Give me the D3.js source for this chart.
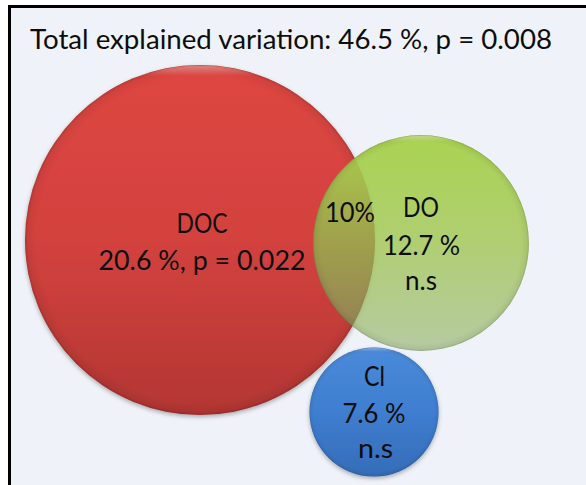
<!DOCTYPE html>
<html><head><meta charset="utf-8">
<script src="https://cdn.jsdelivr.net/npm/d3@7"></script>
<style>html,body{margin:0;padding:0;background:#fff;}svg{display:block;}</style>
</head><body>
<script>
// ---- data ----
const sets = ["DOC", "DO", "Cl"];
const explained = [20.6, 12.7, 7.6];
const significance = ["p = 0.022", "n.s", "n.s"];
const sharedDOC_DO = 10;
const totalExplained = 46.5;
const totalP = "0.008";

const W = 586, H = 485;
const svg = d3.select("body").append("svg").attr("width", W).attr("height", H);
const defs = svg.append("defs");

// frame
svg.append("rect").attr("x", 9.5).attr("y", 6.5).attr("width", W + 20).attr("height", H + 20)
  .attr("fill", "#eff3f9").attr("stroke", "#000").attr("stroke-width", 3);

// scales
const r = d3.scaleLinear().domain([0, 20.6]).range([0, 175]);
const x = d3.scaleLinear().domain([0, 1]).range([0, W]);
const y = d3.scaleLinear().domain([0, 1]).range([0, H]);

// layout (normalized centres)
const layout = [
  {cx: 200 / W, cy: 240 / H},
  {cx: 421 / W, cy: 243 / H},
  {cx: 374 / W, cy: 412 / H}
];
const circles = sets.map((s, i) => ({name: s, v: explained[i], p: significance[i],
  cx: x(layout[i].cx), cy: y(layout[i].cy), r: r(explained[i])}));

// gradients
function lin(id, stops) {
  const g = defs.append("linearGradient").attr("id", id).attr("x1", 0).attr("y1", 0).attr("x2", 0).attr("y2", 1);
  stops.forEach(s => g.append("stop").attr("offset", s[0]).attr("stop-color", s[1]).attr("stop-opacity", s[2] == null ? 1 : s[2]));
}
lin("gRed", [[0, "#de4642"], [0.5, "#d3423e"], [1, "#b33633"]]);
lin("gGreen", [[0, "#a8d24c", 0.97], [0.5, "#a5c85a", 0.85], [1, "#a3bd84", 0.75]]);
lin("gBlue", [[0, "#4a8ad9"], [0.5, "#3f7ed0"], [1, "#356cb8"]]);
const rg = defs.append("radialGradient").attr("id", "bevel").attr("cx", 0.5).attr("cy", 0.5).attr("r", 0.5);
rg.append("stop").attr("offset", 0.93).attr("stop-color", "#000").attr("stop-opacity", 0);
rg.append("stop").attr("offset", 0.985).attr("stop-color", "#000").attr("stop-opacity", 0.06);
rg.append("stop").attr("offset", 1).attr("stop-color", "#000").attr("stop-opacity", 0.2);
const hl = defs.append("linearGradient").attr("id", "hl").attr("x1", 0).attr("y1", 0).attr("x2", 0).attr("y2", 1);
hl.append("stop").attr("offset", 0).attr("stop-color", "#fff").attr("stop-opacity", 0.35);
hl.append("stop").attr("offset", 0.03).attr("stop-color", "#fff").attr("stop-opacity", 0);
const f = defs.append("filter").attr("id", "sh").attr("x", -0.1).attr("y", -0.1).attr("width", 1.2).attr("height", 1.2);
f.append("feDropShadow").attr("dx", 0).attr("dy", 2).attr("stdDeviation", 2).attr("flood-color", "#000").attr("flood-opacity", 0.3);

const fills = ["url(#gRed)", "url(#gGreen)", "url(#gBlue)"];
const order = [0, 2, 1];
order.forEach(i => {
  const c = circles[i];
  const g = svg.append("g");
  g.append("circle").attr("cx", c.cx).attr("cy", c.cy).attr("r", c.r).attr("fill", fills[i]).attr("filter", i === 1 ? null : "url(#sh)");
  g.append("circle").attr("cx", c.cx).attr("cy", c.cy).attr("r", c.r).attr("fill", "url(#bevel)");
  g.append("circle").attr("cx", c.cx).attr("cy", c.cy).attr("r", c.r - 0.5).attr("fill", "url(#hl)");
});
// darken overlap slightly
const cp = defs.append("clipPath").attr("id", "clipRed");
cp.append("circle").attr("cx", circles[0].cx).attr("cy", circles[0].cy).attr("r", circles[0].r);
lin("gOv", [[0, "#7a7a20", 0.0], [0.4, "#6b4a20", 0.15], [1, "#5a2a10", 0.3]]);
svg.append("circle").attr("cx", circles[1].cx).attr("cy", circles[1].cy).attr("r", circles[1].r)
  .attr("clip-path", "url(#clipRed)").attr("fill", "url(#gOv)");

// text helper
const FS = 26;
function txt(str, cx, base, width, anchor) {
  const t = svg.append("text").attr("x", cx).attr("y", base).attr("text-anchor", anchor || "middle")
    .attr("font-family", "Lato, 'Open Sans', sans-serif").attr("font-size", FS).attr("fill", "#0d0d0d").text(str);
  if (width) t.attr("textLength", width).attr("lengthAdjust", "spacingAndGlyphs");
  return t;
}
txt(`Total explained variation: ${totalExplained} %, p = ${totalP}`, 30, 49, 522, "start");
// DOC
txt(circles[0].name, 202, 233, 51);
txt(`${circles[0].v} %, ${circles[0].p}`, 202, 270, 207);
// DO
txt(circles[1].name, 421, 217, 36);
txt(`${circles[1].v} %`, 421.5, 255, 77);
txt(circles[1].p, 421, 290, 32);
// shared
txt(`${sharedDOC_DO}%`, 350, 222, 50);
// Cl
txt(circles[2].name, 374.5, 386, 21);
txt(`${circles[2].v} %`, 374, 423, 63);
txt(circles[2].p, 375.5, 458, 35);
</script>
</body></html>
